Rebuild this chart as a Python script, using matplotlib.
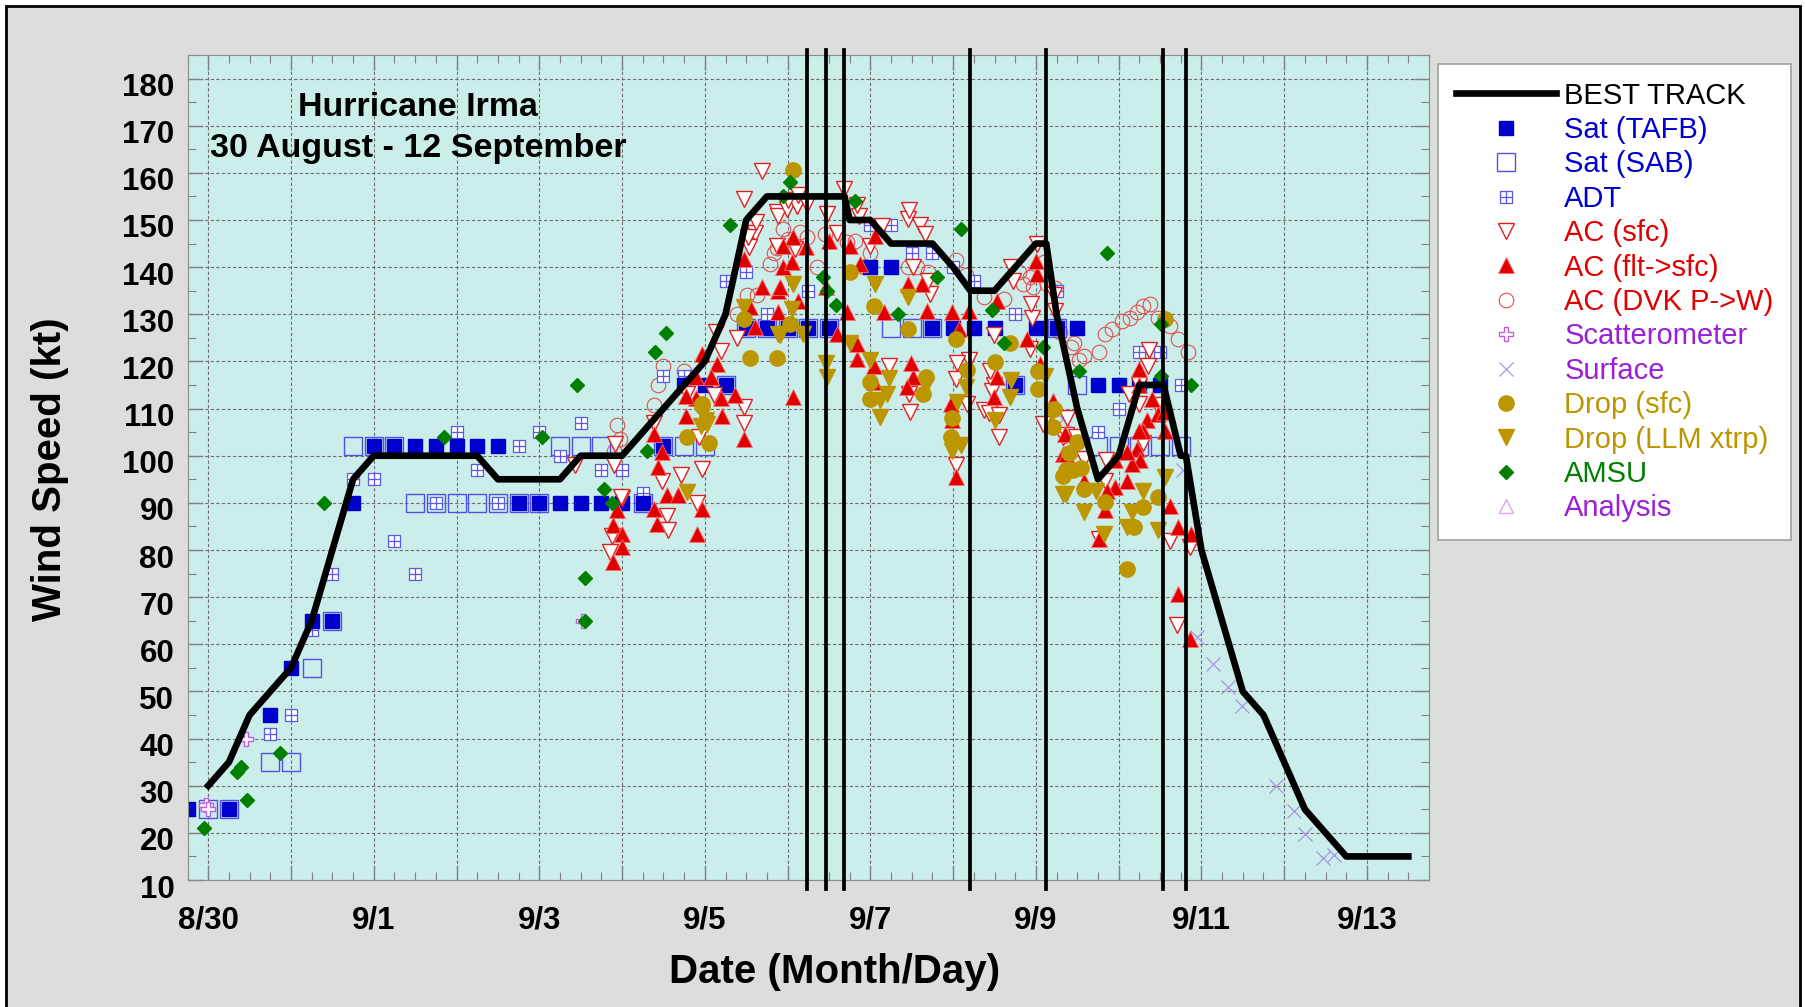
import matplotlib
matplotlib.use("Agg")
import matplotlib.pyplot as plt
import matplotlib.transforms as mtransforms
from matplotlib.path import Path
from matplotlib.patches import Rectangle
from matplotlib.ticker import MultipleLocator

plt.rcParams['font.family'] = ['Liberation Sans', 'DejaVu Sans']

# x values are days since 00 UTC 30 August, y values are knots
bt_day = [0, 0.25, 0.5, 0.75, 1.0, 1.25, 1.5, 1.75, 2.0, 2.25, 2.5, 2.75, 3.0, 3.25,
          3.5, 3.75, 4.0, 4.25, 4.5, 4.75, 5.0, 5.25, 5.5, 5.75, 6.0, 6.25, 6.5, 6.75,
          7.0, 7.25, 7.5, 7.6875, 7.75, 8.0, 8.25, 8.5, 8.75, 9.0, 9.2083, 9.25, 9.5,
          9.75, 10.0, 10.125, 10.25, 10.5, 10.75, 11.0, 11.25, 11.5, 11.5417, 11.75,
          11.8125, 12.0, 12.25, 12.5, 12.75, 13.0, 13.25, 13.5, 13.75, 14.0, 14.25, 14.5]
bt_kt = [30, 35, 45, 50, 55, 65, 80, 95, 100, 100, 100, 100, 100, 100,
         95, 95, 95, 95, 100, 100, 100, 105, 110, 115, 120, 130, 150, 155,
         155, 155, 155, 155, 150, 150, 145, 145, 145, 140, 135, 135, 135,
         140, 145, 145, 130, 110, 95, 100, 115, 115, 115, 100,
         100, 80, 65, 50, 45, 35, 25, 20, 15, 15, 15, 15]

landfall_day = [7.2396, 7.4646, 7.6875, 9.2083, 10.125, 11.5417, 11.8125]

tafb_day = [-0.25, 0.25, 0.75, 1.0, 1.25, 1.5, 1.75, 2.0, 2.25, 2.5, 2.75, 3.0, 3.25, 3.5,
            3.75, 4.0, 4.25, 4.5, 4.75, 5.0, 5.25, 5.5, 5.75, 6.0, 6.25, 6.5, 6.75, 7.0,
            7.25, 7.5, 8.0, 8.25, 8.75, 9.0, 9.25, 9.5, 9.75, 10.0, 10.25, 10.5, 10.75,
            11.0, 11.25, 11.5]
tafb_kt = [25, 25, 45, 55, 65, 65, 90, 102, 102, 102, 102, 102, 102, 102,
           90, 90, 90, 90, 90, 90, 90, 102, 115, 115, 115, 127, 127, 127,
           127, 127, 140, 140, 127, 127, 127, 127, 115, 127, 127, 127, 115,
           115, 115, 115]

sab_day = [0, 0.25, 0.75, 1.0, 1.25, 1.5, 1.75, 2.0, 2.25, 2.5, 2.75, 3.0, 3.25, 3.5,
           3.75, 4.0, 4.25, 4.5, 4.75, 5.25, 5.5, 5.75, 6.0, 6.25, 6.5, 6.75, 7.0, 7.25,
           7.5, 8.25, 8.5, 8.75, 9.75, 10.25, 10.5, 10.75, 11.0, 11.25, 11.5, 11.75]
sab_kt = [25, 25, 35, 35, 55, 65, 102, 102, 102, 90, 90, 90, 90, 90,
          90, 90, 102, 102, 102, 90, 102, 102, 102, 115, 127, 127, 127, 127,
          127, 127, 127, 127, 115, 127, 115, 102, 102, 102, 102, 102]

adt_day = [0.75, 1.0, 1.25, 1.5, 1.75, 2.0, 2.25, 2.5, 2.75, 3.0, 3.25, 3.5, 3.75, 4.0,
           4.25, 4.5, 4.75, 5.0, 5.25, 5.5, 5.75, 6.25, 6.5, 6.75, 7.25, 8.0, 8.25, 8.5,
           8.75, 9.0, 9.25, 9.75, 10.25, 10.75, 11.0, 11.25, 11.5, 11.75]
adt_kt = [41, 45, 63, 75, 95, 95, 82, 75, 90, 105, 97, 90, 102, 105,
          100, 107, 97, 97, 92, 117, 117, 137, 139, 130, 135, 149, 149, 143,
          143, 140, 137, 130, 135, 105, 110, 122, 122, 115]

acsfc_day = [4.86, 4.88, 4.9, 5.0, 4.91, 5.38, 5.48, 5.71, 5.54, 5.56, 5.9, 5.97, 6.47, 6.47,
             5.93, 6.69, 6.47, 6.61, 6.53, 6.87, 6.13, 6.39, 6.19, 5.79, 6.11, 6.62, 6.89,
             6.99, 7.11, 7.24, 7.48, 7.6, 7.68, 7.86, 8.14, 8.46, 8.6, 8.66, 6.87, 7.09,
             8.0, 8.52, 9.72, 10.01, 9.95, 10.23, 9.49, 8.22, 9.03, 9.19, 8.48, 9.49, 9.37,
             9.17, 10.09, 8.72, 9.93, 9.03, 9.55, 9.43, 10.33, 11.36, 11.24, 11.46, 10.36,
             10.48, 10.58, 10.84, 11.3, 11.62, 11.86, 10.76, 11.13, 11.7, 7.0, 7.12, 7.84,
             8.47, 8.7, 9.7, 10.22, 9.94, 6.52, 8.47, 9.05, 9.47, 9.55, 9.45, 11.37, 11.25,
             10.85, 10.37, 4.43, 4.99]
acsfc_kt = [79.5, 83, 98, 91, 102.5, 107, 94.6, 96, 87.3, 84.2, 90, 97.2, 110.3, 107,
            104, 160.4, 154.4, 147.3, 144.2, 151.6, 126.2, 125, 122.3, 113, 112.8, 149.5, 150.9,
            152.3, 153, 153.3, 151.2, 147.3, 156.6, 150.9, 148.8, 150.2, 149, 147, 144.5, 143.8,
            144.5, 140, 137, 145, 129.3, 130.8, 125.5, 119, 116.3, 120.2, 109.2, 115, 109.6,
            111, 106.7, 134.3, 122.6, 98, 104, 109, 104, 119, 111, 110.8, 104.3,
            104, 99.3, 94.7, 102.8, 82, 80.6, 82.3, 113, 64, 154.2, 155.2, 153.2,
            152.2, 137, 140, 134, 132.2, 146.4, 113, 119.7, 113.7, 108.6, 118, 122.4, 115,
            99, 108, 98, 91.3]

acflt_day = [4.94, 4.89, 5.0, 5.0, 4.89, 5.38, 5.48, 5.44, 5.54, 5.68, 5.38, 5.42, 5.97, 5.9,
             5.77, 6.21, 6.47, 5.97, 6.15, 5.89, 6.07, 6.47, 6.69, 6.61, 6.89, 6.55, 7.07,
             6.95, 7.22, 7.5, 7.76, 8.06, 6.95, 7.05, 6.91, 7.13, 6.89, 7.46, 7.87, 7.72, 7.6,
             7.84, 8.04, 8.16, 8.46, 8.62, 8.68, 8.99, 9.19, 8.52, 8.44, 9.07, 9.53, 10.01,
             9.89, 10.05, 9.53, 9.49, 8.99, 10.21, 7.07, 9.03, 10.33, 11.24, 11.34, 11.3,
             11.22, 11.26, 11.16, 11.48, 11.56, 11.1, 10.96, 10.86, 10.36, 10.58, 10.84,
             11.62, 11.72, 11.88, 10.76, 11.72, 11.86, 5.89, 5.77, 6.19, 7.84, 8.04, 8.49,
             8.97, 10.35, 10.95, 11.1, 11.25, 11.4, 11.55, 11.25, 10.0, 6.37]
acflt_kt = [88.4, 85.4, 83.5, 80.6, 77.4, 104.6, 100.7, 97.5, 91.6, 91.6, 88.7, 85.6, 88.7, 83.5,
            108.5, 108.5, 103.6, 121.6, 119.5, 116.7, 116.7, 141.7, 135.7, 127.2, 135, 131.5, 146.3,
            144.5, 144.2, 145.6, 144.5, 146.6, 140, 141, 135.7, 132.9, 130.4, 135.7, 140.6, 130.4, 125.8,
            120.5, 115.6, 130.4, 136.4, 136.4, 130.8, 130.4, 130.8, 116.7, 114.5, 126.9, 132.9, 138.5,
            124.7, 119.5, 116.7, 112.4, 107.5, 111.7, 112.4, 95.5, 100.4, 114.9, 107.5, 105.3,
            101.4, 99, 98.3, 108.9, 105.3, 94.7, 93.3, 92.6, 100.4, 94.7, 88.4,
            89.4, 84.8, 83.4, 82.3, 70.7, 61.2, 112.3, 112.6, 112.3, 123.8, 119.1, 119.7,
            111, 104.5, 99.1, 100.8, 105.2, 112, 109.3, 118.4, 141.4, 112.8]

dvk_day = [4.9, 4.97, 5.38, 5.44, 5.5, 5.75, 6.39, 6.51, 6.63, 6.83, 4.94, 7.24, 6.87, 6.79,
           7.82, 8.0, 8.46, 8.56, 8.7, 9.04, 9.16, 9.37, 9.61, 9.85, 9.97, 10.13, 7.92, 7.36,
           7.72, 7.0, 7.15, 6.95, 7.45, 10.52, 10.76, 10.84, 10.92, 11.04, 11.14, 11.22, 11.3,
           11.38, 11.48, 11.62, 11.72, 11.84, 10.46, 10.29, 10.58, 10.42, 9.8, 9.93, 10.1, 10.23]
dvk_kt = [101, 103.5, 110.8, 114.9, 119, 118, 130, 134, 134, 143, 106.6, 146.3, 144, 140.6,
          145.6, 143, 140, 140, 139, 141.5, 138.4, 133.6, 133.3, 136.4, 135.8, 136.4, 140, 140,
          145.4, 146, 147.5, 148, 147, 120.2, 121.9, 125.8, 126.9, 128.6, 129.3, 130.4, 131.8,
          132.2, 129.3, 127.6, 124.7, 121.9, 124, 126.2, 121.2, 123, 139, 138, 141, 135.5]

scat_day = [-0.03, 0.0, 0.46, 4.53]
scat_kt = [26, 25, 40, 65]

sfc_day = [10.33, 11.78, 11.95, 12.14, 12.32, 12.49, 12.9, 13.12, 13.25, 13.47, 13.6]
sfc_kt = [107.8, 97, 61.6, 55.9, 51, 46.9, 30, 24.7, 19.8, 14.6, 15.3]

dsfc_day = [5.78, 6.05, 5.97, 6.47, 6.54, 6.87, 5.97, 7.07, 7.76, 7.03, 8.04, 8.46, 9.03, 9.17,
            9.51, 8.0, 8.64, 9.69, 10.03, 8.97, 10.21, 10.33, 11.56, 10.36, 10.45, 10.58,
            10.84, 11.3, 11.18, 11.48, 11.1, 7.99, 8.67, 8.99, 10.02, 10.22, 10.4, 10.5, 10.55]
dsfc_kt = [103.9, 102.8, 110.6, 129, 120.8, 120.8, 111, 160.7, 138.9, 128, 131.8, 126.9, 124.7, 118.1,
           119.8, 112.1, 113.1, 124, 114.2, 103.9, 106, 95.8, 129, 97, 96.9, 93,
           90.1, 89.1, 84.8, 91.2, 76, 115.7, 116.7, 107.9, 118, 110, 100.5, 102.9, 97.4]

dllm_day = [5.78, 6.03, 5.95, 6.47, 6.89, 6.01, 7.07, 7.05, 6.91, 7.19, 7.76, 8.06, 8.0, 7.48,
            8.46, 8.2, 8.12, 9.05, 9.15, 9.51, 9.69, 10.11, 8.99, 9.1, 10.33, 10.36, 10.58,
            10.82, 11.1, 11.3, 11.56, 11.48, 10.73, 11.16, 7.47, 8.12, 8.22, 8.67, 9.7, 10.2]
dllm_kt = [92.3, 106.7, 106.4, 131.5, 125.8, 107.5, 136.4, 131.1, 125.5, 125.8, 124, 136.4, 120.2, 116.7,
           133.6, 113.1, 108.2, 111.3, 114.5, 107.5, 112.4, 117, 101.1, 102.2, 91.9, 91.9, 88,
           83.4, 84.8, 92.6, 95.4, 84.2, 92.6, 88, 119.7, 111.9, 116.5, 115, 116, 109]

amsu_day = [-0.05, 0.35, 0.4, 0.47, 0.87, 1.4, 2.85, 4.03, 4.45, 4.55, 4.55, 4.78, 4.88, 5.3,
            5.4, 5.53, 6.3, 6.95, 7.03, 7.82, 7.43, 7.48, 7.58, 8.34, 8.8, 9.09, 9.47, 9.61,
            10.08, 10.86, 10.52, 11.51, 11.51, 11.87]
amsu_kt = [21, 33, 34, 27, 37, 90, 104, 104, 115, 74, 65, 93, 90, 101,
           122, 126, 149, 155, 158, 154, 138, 135, 132, 130, 138, 148, 131, 124,
           123, 143, 118, 128, 117, 115]

anal_day = []
anal_kt = []

date_ticks = list(range(15))
date_labels = ['8/30', '', '9/1', '', '9/3', '', '9/5', '', '9/7', '', '9/9', '', '9/11', '', '9/13']

blue = '#0000cc'
red = '#e00000'
purple = '#9a1fd6'
gold = '#bb9600'
green = '#007f00'

fig = plt.figure(figsize=(18.05, 10.07), dpi=100)
fig.patch.set_facecolor('white')
fig.add_artist(Rectangle((6 / 1805, -0.02), 1794 / 1805, 1.02 - 6 / 1007,
                         transform=fig.transFigure, facecolor='#dcdedc',
                         edgecolor='black', lw=2, zorder=-10))

ax = fig.add_axes([0.1039, 0.1261, 0.6878, 0.8193])
ax.set_facecolor('#cceeea')
ax.set_axisbelow(True)

adt_marker = Path([(-1, -1), (1, -1), (1, 1), (-1, 1), (-1, -1), (0, -1), (0, 1), (-1, 0), (1, 0)],
                  [Path.MOVETO, Path.LINETO, Path.LINETO, Path.LINETO, Path.CLOSEPOLY,
                   Path.MOVETO, Path.LINETO, Path.MOVETO, Path.LINETO])

h_dvk, = ax.plot(dvk_day, dvk_kt, ls='none', marker='o', ms=10.5, mfc='none', mec='#e05050', mew=0.8)
h_sab, = ax.plot(sab_day, sab_kt, ls='none', marker='s', ms=12.5, mfc='none', mec='#5050e8', mew=1.0)
h_adt, = ax.plot(adt_day, adt_kt, ls='none', marker=adt_marker, ms=9, mfc='white', mec='#5a5af0', mew=0.9)
h_tafb, = ax.plot(tafb_day, tafb_kt, ls='none', marker='s', ms=9.5, mfc=blue, mec=blue)
h_sfc, = ax.plot(sfc_day, sfc_kt, ls='none', marker='x', ms=10, color='#a58ae6', mew=0.8)
h_scat, = ax.plot(scat_day, scat_kt, ls='none', marker='P', ms=10, mfc='white', mec='#c05ce0', mew=1.0)
h_acsfc, = ax.plot(acsfc_day, acsfc_kt, ls='none', marker='v', ms=11.5, mfc='white', mec='#e02020', mew=1.0)
h_acflt, = ax.plot(acflt_day, acflt_kt, ls='none', marker='^', ms=11.5, mfc=red, mec='#ff7070', mew=0.6)
h_dsfc, = ax.plot(dsfc_day, dsfc_kt, ls='none', marker='o', ms=11, mfc=gold, mec=gold)
h_dllm, = ax.plot(dllm_day, dllm_kt, ls='none', marker='v', ms=11.5, mfc=gold, mec=gold)
h_amsu, = ax.plot(amsu_day, amsu_kt, ls='none', marker='D', ms=7.5, mfc=green, mec=green)
h_anal, = ax.plot(anal_day, anal_kt, ls='none', marker='^', ms=10, mfc='none', mec='#d8a8f0', mew=1.0)
h_bt, = ax.plot(bt_day, bt_kt, color='black', lw=4.8, solid_joinstyle='round', zorder=5)

for d in landfall_day:
    ax.axvline(d, ymin=-0.011, ymax=1.006, color='black', lw=2.7, clip_on=False, zorder=6)

ax.set_xlim(-0.25, 14.75)
ax.set_ylim(10, 185)
ax.set_xticks(date_ticks)
ax.set_xticklabels(date_labels)
ax.xaxis.set_minor_locator(MultipleLocator(0.25))
ax.set_yticks(range(10, 181, 10))
ax.yaxis.set_minor_locator(MultipleLocator(5))
ax.grid(which='major', color='#6e6e6e', lw=0.8, ls=(0, (3, 2)))
ax.tick_params(which='both', direction='in', top=True, right=True, color='#808080')
ax.tick_params(which='major', length=11, width=1.0)
ax.tick_params(which='minor', length=6, width=0.8)
ax.tick_params(axis='x', which='major', pad=18, labelsize=22.5)
ax.tick_params(axis='y', which='major', pad=9.5, labelsize=22.5)
for lab in ax.get_xticklabels() + ax.get_yticklabels():
    lab.set_fontweight('bold')
shift = mtransforms.ScaledTranslation(0, -6 / 100, fig.dpi_scale_trans)
for lab in ax.get_yticklabels():
    lab.set_transform(lab.get_transform() + shift)
for sp in ax.spines.values():
    sp.set_color('#8a8a8a')

fig.text(0.2316, 1 - 107 / 1007, 'Hurricane Irma', ha='center', va='center',
         fontsize=24.5, fontweight='bold')
fig.text(0.2316, 1 - 148.5 / 1007, '30 August - 12 September', ha='center', va='center',
         fontsize=24.5, fontweight='bold')
fig.text(50 / 1805, 1 - 469 / 1007, 'Wind Speed (kt)', rotation=90, ha='center', va='center',
         fontsize=29, fontweight='bold')
fig.text(835 / 1805, 1 - 972 / 1007, 'Date (Month/Day)', ha='center', va='center',
         fontsize=29, fontweight='bold')

handles = [h_bt, h_tafb, h_sab, h_adt, h_acsfc, h_acflt, h_dvk, h_scat, h_sfc,
           h_dsfc, h_dllm, h_amsu, h_anal]
labels = ['BEST TRACK', 'Sat (TAFB)', 'Sat (SAB)', 'ADT', 'AC (sfc)', 'AC (flt->sfc)',
          'AC (DVK P->W)', 'Scatterometer', 'Surface', 'Drop (sfc)', 'Drop (LLM xtrp)',
          'AMSU', 'Analysis']
label_colors = ['black', blue, blue, blue, red, red, red, purple, purple, gold, gold, green, purple]

leg = fig.legend(handles, labels, loc='upper left', bbox_to_anchor=(1438 / 1805, 1 - 64 / 1007),
                 bbox_transform=fig.transFigure, borderaxespad=0, fontsize=21, numpoints=1,
                 handlelength=3.43, handletextpad=0.3, labelspacing=0.22, borderpad=0.6,
                 fancybox=False, framealpha=1, edgecolor='#a0a0a0')
leg.get_frame().set_linewidth(1.2)
for t, c in zip(leg.get_texts(), label_colors):
    t.set_color(c)

fig.savefig('out.png', dpi=100)
